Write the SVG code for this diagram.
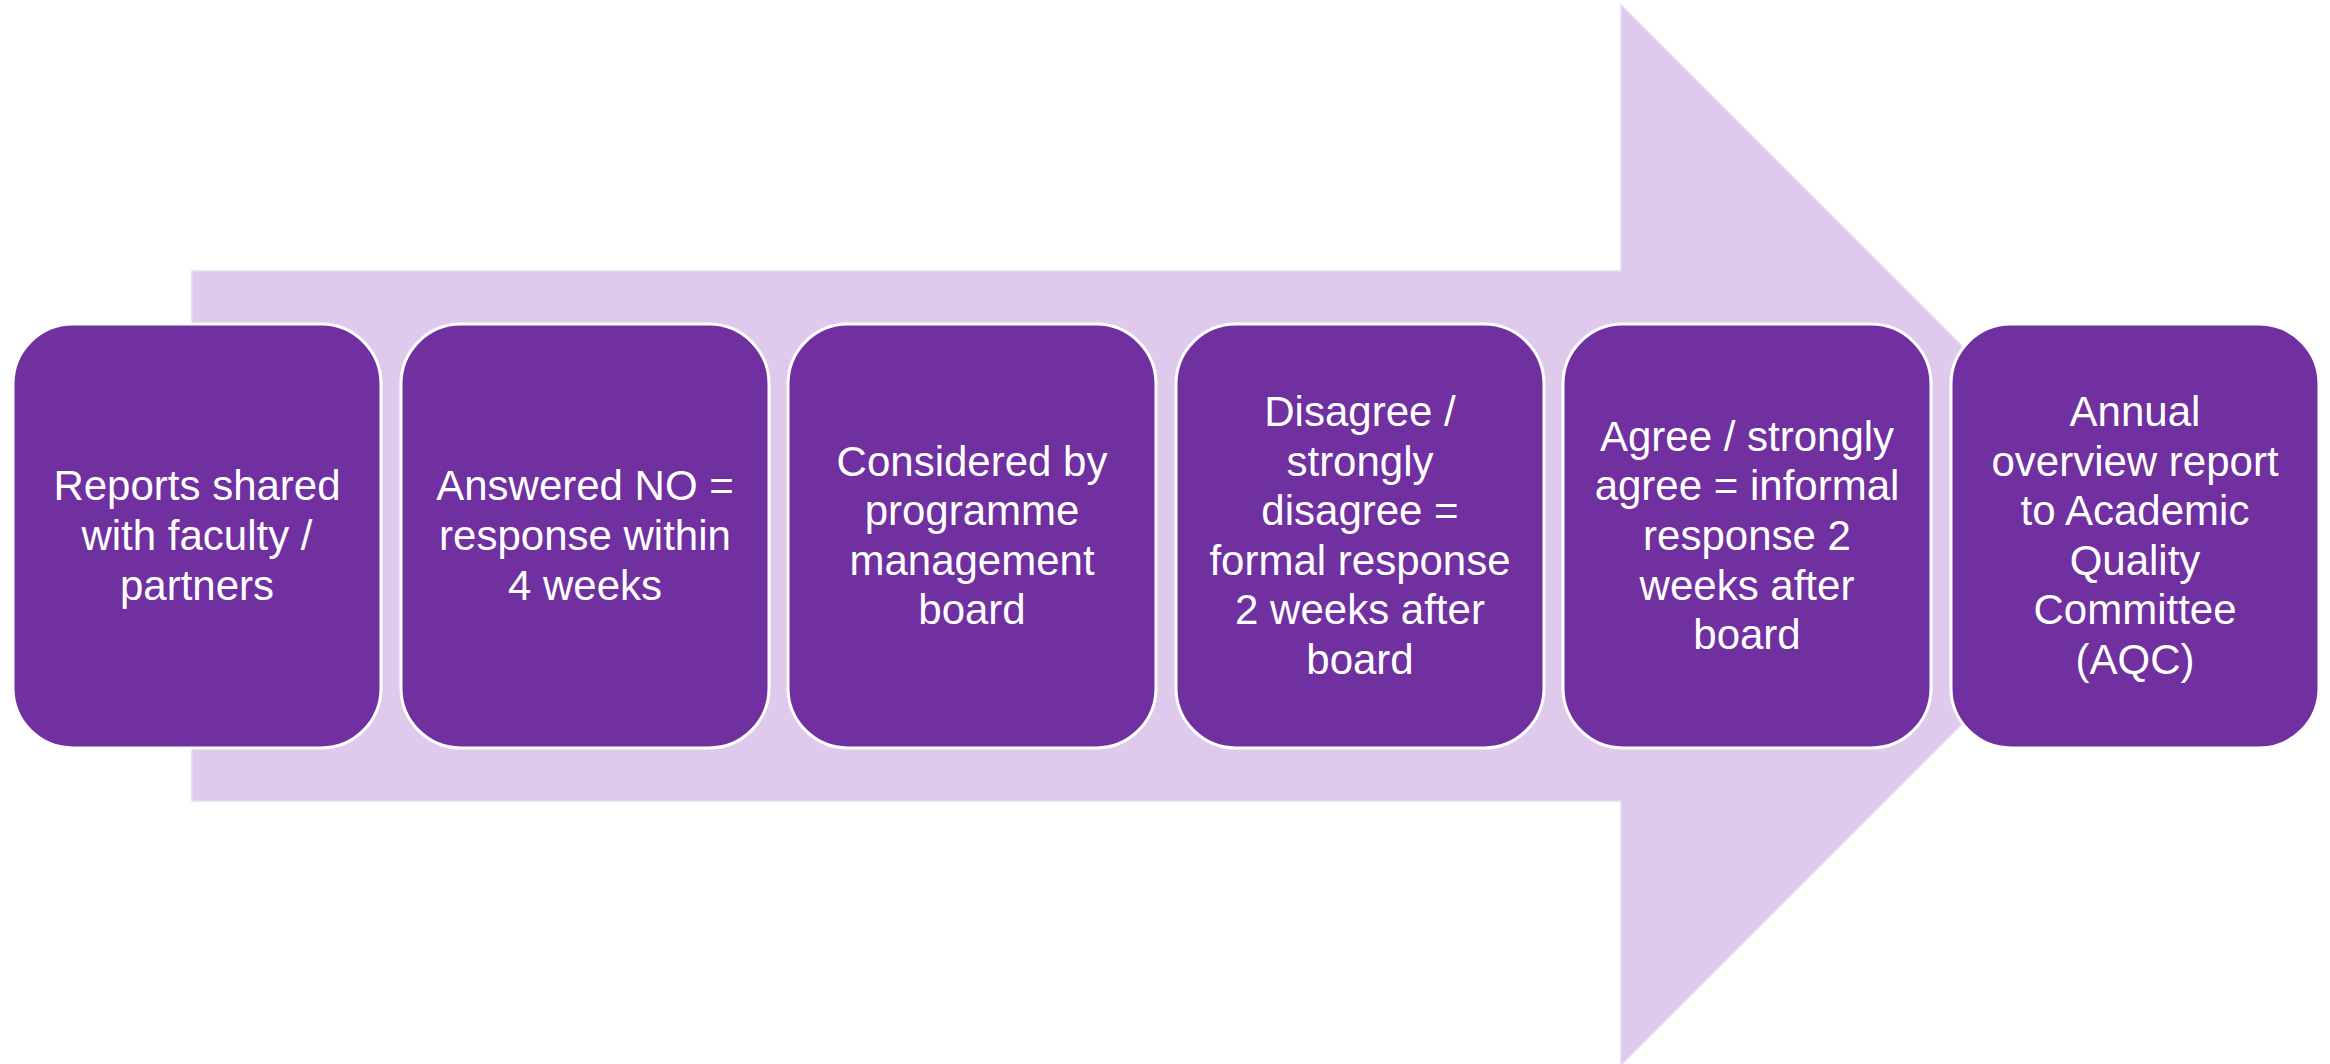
<svg xmlns="http://www.w3.org/2000/svg" width="2330" height="1064" viewBox="0 0 2330 1064">
<style>
.box{fill:#7030A0;stroke:#FFFFFF;stroke-width:3}
.t{font-family:"Liberation Sans",Arial,sans-serif;font-size:42px;fill:#FFFFFF;text-anchor:middle}
</style>
<rect width="2330" height="1064" fill="#FFFFFF"/>
<g id="arrow">
<polygon points="192,271 1621,271 1621,5 2151,535 1621,1065 1621,801 192,801" fill="#DFCAEE" stroke="#E8DAF2" stroke-width="1.5"/>
</g>
<g id="connectors"></g>
<g id="n1">
<rect class="box" x="13" y="324" width="368" height="424" rx="60"/>
<text class="t" x="197" y="500">Reports shared</text>
<text class="t" x="197" y="550">with faculty /</text>
<text class="t" x="197" y="600">partners</text>
</g>
<g id="n2">
<rect class="box" x="401" y="324" width="368" height="424" rx="60"/>
<text class="t" x="585" y="500">Answered NO =</text>
<text class="t" x="585" y="550">response within</text>
<text class="t" x="585" y="600">4 weeks</text>
</g>
<g id="n3">
<rect class="box" x="788" y="324" width="368" height="424" rx="60"/>
<text class="t" x="972" y="476">Considered by</text>
<text class="t" x="972" y="525">programme</text>
<text class="t" x="972" y="575">management</text>
<text class="t" x="972" y="624">board</text>
</g>
<g id="n4">
<rect class="box" x="1176" y="324" width="368" height="424" rx="60"/>
<text class="t" x="1360" y="426">Disagree /</text>
<text class="t" x="1360" y="476">strongly</text>
<text class="t" x="1360" y="525">disagree =</text>
<text class="t" x="1360" y="575">formal response</text>
<text class="t" x="1360" y="624">2 weeks after</text>
<text class="t" x="1360" y="674">board</text>
</g>
<g id="n5">
<rect class="box" x="1563" y="324" width="368" height="424" rx="60"/>
<text class="t" x="1747" y="451">Agree / strongly</text>
<text class="t" x="1747" y="500">agree = informal</text>
<text class="t" x="1747" y="550">response 2</text>
<text class="t" x="1747" y="600">weeks after</text>
<text class="t" x="1747" y="649">board</text>
</g>
<g id="n6">
<rect class="box" x="1951" y="324" width="368" height="424" rx="60"/>
<text class="t" x="2135" y="426">Annual</text>
<text class="t" x="2135" y="476">overview report</text>
<text class="t" x="2135" y="525">to Academic</text>
<text class="t" x="2135" y="575">Quality</text>
<text class="t" x="2135" y="624">Committee</text>
<text class="t" x="2135" y="674">(AQC)</text>
</g>
</svg>
